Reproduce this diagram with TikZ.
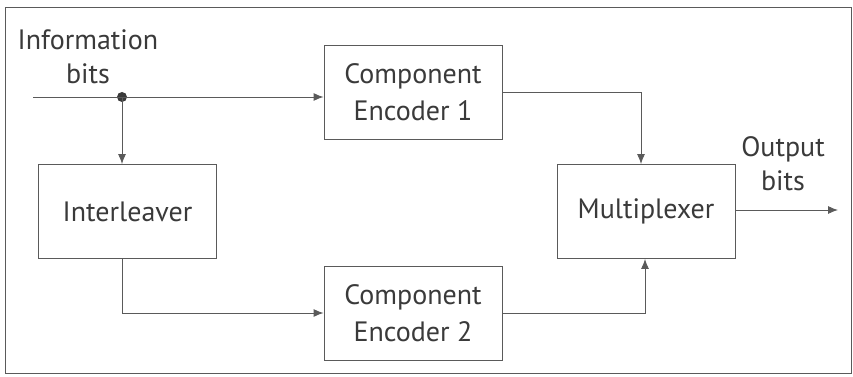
\documentclass[tikz,border=0pt]{standalone}
\usepackage{fontspec}
\setmainfont{PT Sans}
\usetikzlibrary{arrows.meta}
\definecolor{ink}{HTML}{3A3A3A}
\definecolor{wire}{HTML}{5A5A5A}
\begin{document}
\begin{tikzpicture}[x=1pt,y=-1pt,
  block/.style={draw=wire,line width=0.9pt,minimum width=178pt,minimum height=94pt,
    align=center,text=ink,inner sep=0pt,font=\fontsize{28}{37}\selectfont},
  lbl/.style={text=ink,align=center,inner sep=0pt,font=\fontsize{28}{34}\selectfont},
  wireline/.style={draw=wire,line width=0.9pt},
  flow/.style={wireline,-{Latex[length=10pt,width=8pt]}}]
  \useasboundingbox (0,0) rectangle (853,377);
  % outer frame
  \draw[wire,line width=0.9pt] (5,7) rectangle (851,373);

  % blocks
  \node[block] (ce1) at (413,92) {Component\\Encoder 1};
  \node[block] (ce2) at (413,313) {Component\\Encoder 2};
  \node[block] (int) at (127.5,211.5) {Interleaver};
  \node[block] (mux) at (646,211.5) {Multiplexer};

  % labels
  \node[lbl] (inlbl) at (88,57) {Information\\bits};
  \node[lbl] (outlbl) at (783,164) {Output\\bits};

  % input and branch point
  \coordinate (in) at (33,97);
  \coordinate (split) at (122,97);
  \fill[ink] (split) circle (5pt);
  \draw[wireline] (in) -- (split);
  \draw[flow] (split) -- (split -| ce1.west);
  \draw[flow] (split) -- (split |- int.north);

  % interleaver to encoder 2
  \draw[flow] (int.south -| split) |- (ce2.west);

  % encoders to multiplexer
  \coordinate (m1) at (641,0);
  \coordinate (m2) at (645,0);
  \draw[flow] (ce1.east) -| (m1 |- mux.north);
  \draw[flow] (ce2.east) -| (m2 |- mux.south);

  % output
  \coordinate (out) at (838,210);
  \draw[flow] (mux.east |- out) -- (out);
\end{tikzpicture}
\end{document}
